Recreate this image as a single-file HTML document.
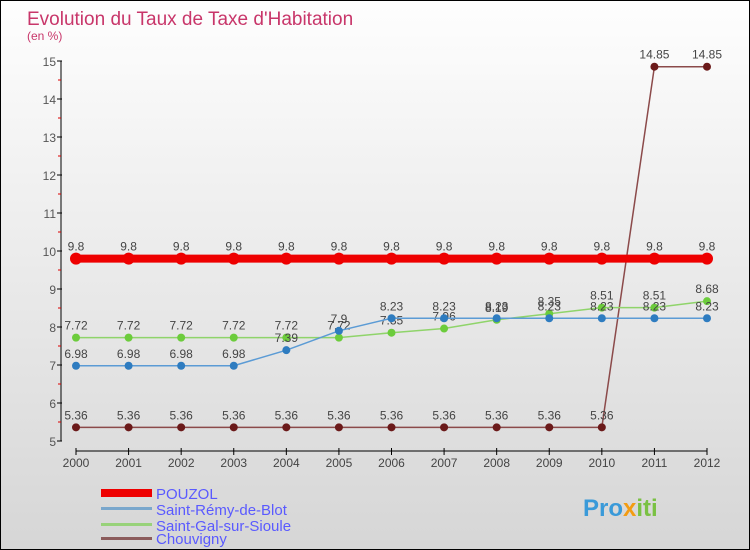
<!DOCTYPE html>
<html><head><meta charset="utf-8"><style>
body{margin:0}
#c{width:748px;height:548px;border:1px solid #000;position:relative;background:linear-gradient(#fefefe,#d6d6d6);font-family:"Liberation Sans",sans-serif;overflow:hidden}
svg text{font-family:"Liberation Sans",sans-serif}
</style></head><body>
<div id="c">
<svg id="s" width="748" height="548">
<text x="26" y="24" font-size="19" fill="#c8366a">Evolution du Taux de Taxe d'Habitation</text>
<text x="26" y="39" font-size="12" fill="#c8366a">(en %)</text>
<g id="axes"></g><g id="series"></g>
<g>
<rect x="100" y="488" width="51" height="8" fill="#e00"/>
<rect x="100" y="506" width="51" height="3" fill="#7aa7cc"/>
<rect x="100" y="522" width="51" height="3" fill="#98d27a"/>
<rect x="100" y="536" width="51" height="3" fill="#8b5c5c"/>
<text x="155" y="498" font-size="15" fill="#5a5aff">POUZOL</text>
<text x="155" y="514" font-size="15" fill="#5a5aff">Saint-Rémy-de-Blot</text>
<text x="155" y="530" font-size="15" fill="#5a5aff">Saint-Gal-sur-Sioule</text>
<text x="155" y="543" font-size="15" fill="#5a5aff">Chouvigny</text>
</g>
<text x="582" y="515" font-size="24" font-weight="bold" fill="#3a9ad9">Pro<tspan fill="#f39c12">x</tspan><tspan fill="#7ac143">iti</tspan></text>
</svg></div>
<script>
const years=[2000,2001,2002,2003,2004,2005,2006,2007,2008,2009,2010,2011,2012];
const pouzol=[9.8,9.8,9.8,9.8,9.8,9.8,9.8,9.8,9.8,9.8,9.8,9.8,9.8];
const saintRemy=[6.98,6.98,6.98,6.98,7.39,7.9,8.23,8.23,8.23,8.23,8.23,8.23,8.23];
const saintGal=[7.72,7.72,7.72,7.72,7.72,7.72,7.85,7.96,8.19,8.35,8.51,8.51,8.68];
const chouvigny=[5.36,5.36,5.36,5.36,5.36,5.36,5.36,5.36,5.36,5.36,5.36,14.85,14.85];
const yTicks=[5,6,7,8,9,10,11,12,13,14,15];
const NS="http://www.w3.org/2000/svg";
const x=i=>75+i*(631/12), y=v=>440-(v-5)*38;
function mk(t,a,p){const e=document.createElementNS(NS,t);for(const k in a)e.setAttribute(k,a[k]);p.appendChild(e);return e;}
const ax=document.getElementById('axes'), se=document.getElementById('series');
let l=mk('line',{x1:60,y1:y(15),x2:60,y2:y(5),stroke:'#000'},ax);


l=mk('line',{x1:x(0),y1:450,x2:x(12),y2:450,stroke:'#000'},ax);


yTicks.forEach(v=>{
 mk('line',{x1:56,y1:y(v),x2:61,y2:y(v),stroke:'#000'},ax);
 if(v<15)mk('line',{x1:57,y1:y(v+0.5),x2:60,y2:y(v+0.5),stroke:'#d00'},ax);
 const t=mk('text',{x:55,y:y(v)+5,'font-size':12,fill:'#555','text-anchor':'end'},ax);t.textContent=v;
 
 
});
years.forEach((yr,i)=>{
 mk('line',{x1:x(i),y1:447,x2:x(i),y2:454,stroke:'#000'},ax);
 const t=mk('text',{x:x(i),y:466,'font-size':12,fill:'#444','text-anchor':'middle'},ax);t.textContent=yr;
 
 
});
function series(vals,col,w,r,dot,name){
 const g=mk('g',{},se);
 
 
 mk('polyline',{points:vals.map((v,i)=>x(i)+','+y(v)).join(' '),fill:'none',stroke:col,'stroke-width':w},g);
 vals.forEach((v,i)=>{
  const c=mk('circle',{cx:x(i),cy:y(v),r:r,fill:dot},g);
  
  
  const t=mk('text',{x:x(i),y:y(v)-8,'font-size':12,fill:'#444','text-anchor':'middle'},g);
  t.textContent=v;
  
  
 });
}
series(chouvigny,'#8b4a4a',1.5,4,'#6b1a1a','chouvigny-series');
series(saintGal,'#8fd46a',1.5,4,'#6ccc3c','saint-gal-series');
series(saintRemy,'#5b9bd5',1.5,4,'#2e7cc0','saint-remy-series');
series(pouzol,'#ee0000',8,6,'#ee0000','pouzol-series');
</script>
</body></html>
